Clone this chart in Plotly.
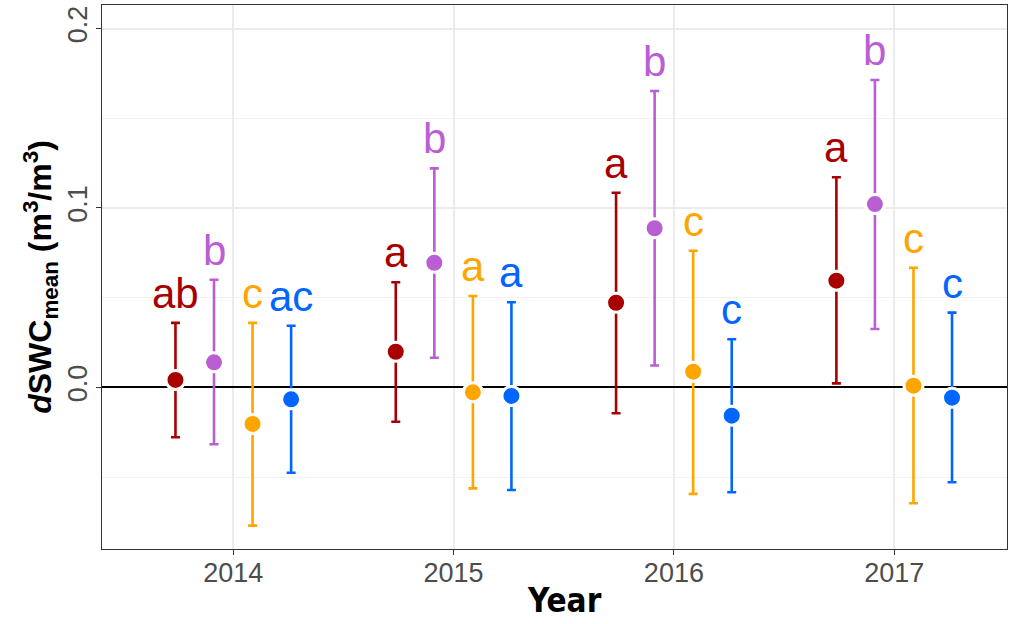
import plotly.graph_objects as go

years = [2014, 2015, 2016, 2017]
groups = ["G1", "G2", "G3", "G4"]
colors = ["#A80000", "#BA5FD3", "#FFA500", "#0066FF"]
dodge = [-0.2625, -0.0875, 0.0875, 0.2625]

means = {
    "G1": [0.0042, 0.0199, 0.0472, 0.0595],
    "G2": [0.0140, 0.0695, 0.0887, 0.1022],
    "G3": [-0.0203, -0.0027, 0.0088, 0.0010],
    "G4": [-0.0066, -0.0047, -0.0157, -0.0057],
}
upper = {
    "G1": [0.0360, 0.0586, 0.1085, 0.1171],
    "G2": [0.0600, 0.1221, 0.1652, 0.1713],
    "G3": [0.0360, 0.0510, 0.0762, 0.0667],
    "G4": [0.0344, 0.0475, 0.0269, 0.0417],
}
lower = {
    "G1": [-0.0277, -0.0191, -0.0144, 0.0023],
    "G2": [-0.0316, 0.0166, 0.0122, 0.0326],
    "G3": [-0.0770, -0.0562, -0.0593, -0.0645],
    "G4": [-0.0475, -0.0571, -0.0584, -0.0528],
}
letters = {
    "G1": ["ab", "a", "a", "a"],
    "G2": ["b", "b", "b", "b"],
    "G3": ["c", "a", "c", "c"],
    "G4": ["ac", "a", "c", "c"],
}

fig = go.Figure()
annotations = []
for g, col, off in zip(groups, colors, dodge):
    xs = [y + off for y in years]
    m = means[g]
    up = [u - v for u, v in zip(upper[g], m)]
    dn = [v - l for v, l in zip(m, lower[g])]
    fig.add_trace(go.Scatter(
        x=xs, y=m, mode="markers", name=g, showlegend=False,
        marker=dict(color=col, size=19, line=dict(color="white", width=3)),
        error_y=dict(type="data", symmetric=False, array=up, arrayminus=dn,
                     color=col, thickness=2.6, width=4.5),
    ))
    for x, u, t in zip(xs, upper[g], letters[g]):
        annotations.append(dict(
            x=x, y=u, text=t, showarrow=False, xanchor="center", yanchor="bottom",
            yshift=4, font=dict(family="Liberation Sans, Arial", size=42, color=col),
        ))

# x-axis title (centred as in the reference)
annotations.append(dict(
    xref="paper", yref="paper", x=0.5105, y=-0.094, text="<b>Year</b>",
    showarrow=False, xanchor="center", yanchor="middle",
    font=dict(family="DejaVu Sans Condensed, Liberation Sans, Arial", size=33, color="black"),
))

fig.update_layout(
    width=1019, height=624,
    margin=dict(l=102, r=12, t=5, b=75),
    plot_bgcolor="white", paper_bgcolor="white",
    annotations=annotations,
    font=dict(family="Liberation Sans, Arial"),
)
fig.update_xaxes(
    automargin=False,
    range=[2013.404, 2017.512], tickvals=years, ticktext=[str(y) for y in years],
    showgrid=True, gridcolor="#EBEBEB", gridwidth=2,
    showline=True, linecolor="#333333", linewidth=1.3, mirror=True,
    ticks="outside", ticklen=5, tickcolor="#333333", tickwidth=1.3,
    ticklabelstandoff=-6,
    tickfont=dict(size=27, color="#4D4D4D"), zeroline=False,
)
fig.update_yaxes(
    automargin=False,
    range=[-0.0900, 0.2131], tickvals=[0.0, 0.1, 0.2], ticktext=["0.0", "0.1", "0.2"],
    tickangle=-90,
    showgrid=True, gridcolor="#EBEBEB", gridwidth=2,
    minor=dict(tickvals=[-0.05, 0.05, 0.15], showgrid=True, gridcolor="#F2F2F2", gridwidth=1.3),
    showline=True, linecolor="#333333", linewidth=1.3, mirror=True,
    ticks="outside", ticklen=5, tickcolor="#333333", tickwidth=1.3,
    ticklabelstandoff=-2,
    tickfont=dict(size=27, color="#4D4D4D"),
    zeroline=True, zerolinecolor="black", zerolinewidth=1.6,
    title=dict(text="<b><i>d</i>SWC<sub>mean</sub> (m<sup>3</sup>/m<sup>3</sup>)</b>",
               font=dict(size=32, color="black"), standoff=0),
)

fig.write_html("out.html", config={"displayModeBar": False},
               post_script="document.body.style.margin='0';")
